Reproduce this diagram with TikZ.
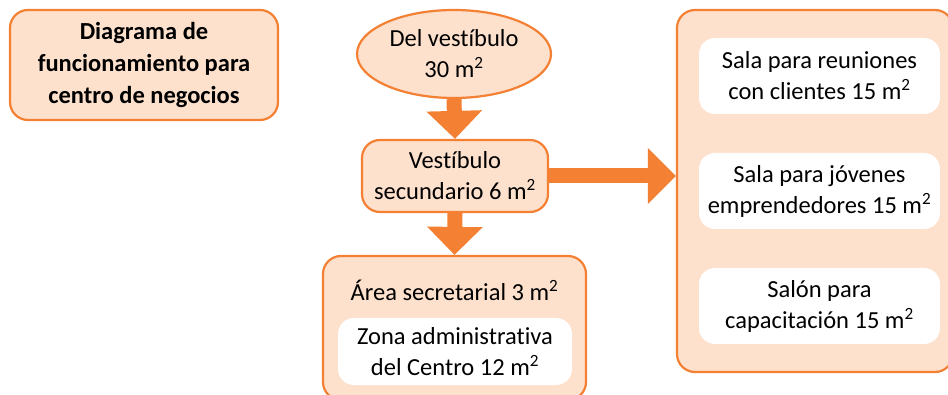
\documentclass[tikz,border=0pt]{standalone}
\usepackage{fontspec}
\setmainfont{Carlito}[Ligatures=NoCommon]
\usetikzlibrary{shapes.geometric, arrows.meta}

\definecolor{bizorange}{RGB}{244,128,52}
\definecolor{bizpeach}{RGB}{253,225,204}

\begin{document}
\begin{tikzpicture}[x=1pt, y=-1pt,
    every node/.style={font=\fontsize{24.5}{31}\selectfont, align=center, inner sep=0pt},
    panel/.style={draw=bizorange, fill=bizpeach, line width=2.2pt, rounded corners=18pt},
    room/.style={fill=white, rounded corners=16pt},
    blockarrow/.style={draw=bizorange, line width=15pt,
                       -{Triangle[width=54pt, length=28pt, fill=bizorange]}}]
  \useasboundingbox (0,0) rectangle (948,395);

  % title box at the top left
  \node[panel, minimum width=268, minimum height=110, font=\fontsize{24.5}{32}\selectfont\bfseries]
    (title) at (144,65) {Diagrama de\\funcionamiento para\\centro de negocios};

  % middle column: lobby, secondary lobby, secretary area
  \node[panel, ellipse, rounded corners=0pt, minimum width=194, minimum height=88]
    (lobby) at (454,54) {Del vestíbulo\\30 m\textsuperscript{2}};
  \node[panel, minimum width=186, minimum height=72]
    (sublobby) at (455,176) {Vestíbulo\\secundario 6 m\textsuperscript{2}};
  \node[panel, minimum width=263, minimum height=144] (secretary) at (454.5,328) {};
  \node (secretarytext) at (454.5,290) {Área secretarial 3 m\textsuperscript{2}};
  \node[room, minimum width=234, minimum height=67]
    (admin) at (455,351.5) {Zona administrativa\\del Centro 12 m\textsuperscript{2}};

  % right column: the three rooms
  \node[panel, minimum width=276, minimum height=362] (rooms) at (815,191) {};
  \node[room, minimum width=241, minimum height=76]
    (meeting) at (819.5,76) {Sala para reuniones\\con clientes 15 m\textsuperscript{2}};
  \node[room, minimum width=241, minimum height=76]
    (youth) at (819.5,191) {Sala para jóvenes\\emprendedores 15 m\textsuperscript{2}};
  \node[room, minimum width=241, minimum height=76]
    (training) at (819.5,306) {Salón para\\capacitación 15 m\textsuperscript{2}};

  % block arrows
  \draw[blockarrow] (lobby.south) -- (sublobby.north);
  \draw[blockarrow] (sublobby.south) -- (secretary.north);
  \draw[blockarrow] (sublobby.east) -- (sublobby.east -| rooms.west);
\end{tikzpicture}
\end{document}
